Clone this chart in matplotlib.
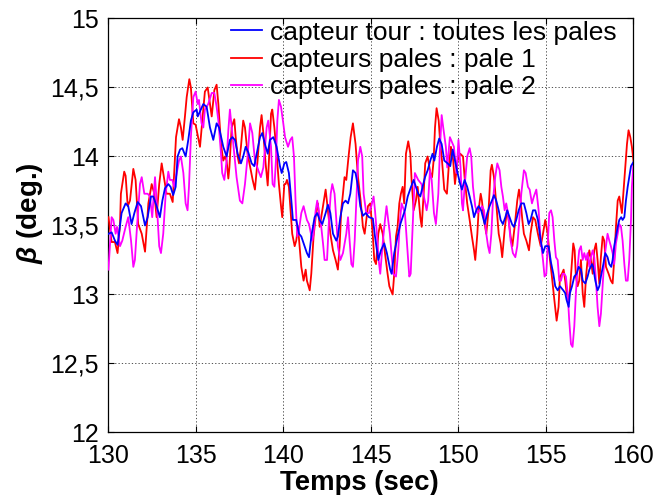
import matplotlib
matplotlib.use("Agg")
import matplotlib.pyplot as plt
from matplotlib.ticker import FixedLocator

# angle de calage beta (deg.) relevé entre 130 et 160 s
t_tour = [130.0, 130.18, 130.37, 130.52, 130.75, 130.98, 131.13, 131.32, 131.48, 131.67, 131.86, 132.09,
          132.24, 132.43, 132.56, 132.75, 132.94, 133.08, 133.23, 133.42, 133.55, 133.70, 133.84, 133.95,
          134.09, 134.22, 134.41, 134.56, 134.71, 134.85, 135.04, 135.10, 135.42, 135.61, 135.80, 135.99,
          136.18, 136.32, 136.56, 136.75, 136.94, 137.08, 137.23, 137.38, 137.57, 137.70, 137.84, 137.99,
          138.18, 138.33, 138.47, 138.66, 138.79, 138.94, 139.10, 139.23, 139.42, 139.61, 139.80, 139.90,
          140.05, 140.16, 140.31, 140.45, 140.54, 140.73, 140.89, 141.02, 141.21, 141.34, 141.46, 141.59,
          141.78, 141.93, 142.07, 142.22, 142.41, 142.54, 142.68, 142.83, 143.02, 143.11, 143.25, 143.40,
          143.55, 143.69, 143.82, 143.97, 144.12, 144.26, 144.39, 144.54, 144.70, 144.89, 145.11, 145.23,
          145.42, 145.57, 145.76, 145.91, 146.10, 146.18, 146.33, 146.52, 146.68, 146.81, 146.94, 147.10,
          147.29, 147.44, 147.57, 147.70, 147.82, 147.95, 148.09, 148.24, 148.39, 148.52, 148.62, 148.77,
          148.90, 149.04, 149.19, 149.38, 149.53, 149.67, 149.80, 149.95, 150.10, 150.20, 150.35, 150.50,
          150.64, 150.77, 150.89, 151.02, 151.15, 151.30, 151.50, 151.65, 151.78, 151.91, 152.03, 152.16,
          152.30, 152.41, 152.54, 152.68, 152.79, 152.92, 153.06, 153.17, 153.30, 153.44, 153.59, 153.74,
          153.88, 154.01, 154.12, 154.26, 154.39, 154.54, 154.70, 154.83, 154.96, 155.15, 155.29, 155.42,
          155.53, 155.67, 155.80, 155.99, 156.10, 156.18, 156.30, 156.37, 156.49, 156.62, 156.75, 156.87,
          157.00, 157.10, 157.25, 157.38, 157.48, 157.63, 157.70, 157.82, 157.95, 158.05, 158.14, 158.28,
          158.39, 158.52, 158.62, 158.73, 158.81, 158.90, 159.00, 159.10, 159.19, 159.30, 159.38, 159.48,
          159.57, 159.67, 159.76, 159.86, 160.0]
beta_tour = [13.44, 13.45, 13.39, 13.36, 13.59, 13.66, 13.64, 13.51, 13.59, 13.67, 13.64, 13.50,
             13.56, 13.71, 13.71, 13.64, 13.56, 13.68, 13.77, 13.80, 13.78, 13.72, 13.78, 14.00,
             14.05, 14.06, 14.00, 14.12, 14.26, 14.32, 14.34, 14.29, 14.38, 14.36, 14.21, 14.12,
             14.24, 14.21, 14.07, 14.00, 14.12, 14.14, 14.12, 14.02, 13.95, 14.00, 14.07, 14.03,
             13.95, 13.93, 14.02, 14.14, 14.17, 14.09, 14.02, 14.12, 14.14, 14.07, 13.93, 13.88,
             13.95, 13.96, 13.88, 13.68, 13.54, 13.54, 13.44, 13.42, 13.35, 13.30, 13.27, 13.42,
             13.56, 13.59, 13.54, 13.51, 13.59, 13.65, 13.59, 13.44, 13.39, 13.42, 13.56, 13.66,
             13.68, 13.66, 13.73, 13.90, 13.88, 13.78, 13.64, 13.57, 13.59, 13.56, 13.55, 13.42,
             13.25, 13.32, 13.37, 13.30, 13.18, 13.15, 13.30, 13.42, 13.51, 13.56, 13.61, 13.71,
             13.78, 13.83, 13.78, 13.73, 13.71, 13.78, 13.85, 13.90, 13.97, 14.02, 13.97, 14.07,
             14.13, 14.09, 13.97, 13.95, 13.93, 14.05, 13.97, 13.88, 13.80, 13.76, 13.83, 13.78,
             13.71, 13.64, 13.56, 13.61, 13.64, 13.61, 13.51, 13.59, 13.64, 13.68, 13.72, 13.68,
             13.61, 13.54, 13.51, 13.56, 13.61, 13.56, 13.51, 13.49, 13.54, 13.61, 13.66, 13.66,
             13.59, 13.51, 13.54, 13.61, 13.61, 13.54, 13.39, 13.30, 13.35, 13.35, 13.23, 13.15,
             13.06, 13.03, 13.06, 13.03, 13.01, 12.96, 12.91, 13.01, 13.06, 13.13, 13.15, 13.20,
             13.18, 13.10, 13.08, 13.13, 13.18, 13.22, 13.20, 13.10, 13.03, 13.06, 13.13, 13.22,
             13.30, 13.27, 13.22, 13.20, 13.25, 13.35, 13.42, 13.49, 13.54, 13.56, 13.54, 13.56,
             13.68, 13.78, 13.85, 13.93, 13.96]

t_pale1 = [130.0, 130.18, 130.37, 130.52, 130.66, 130.71, 130.90, 130.98, 131.10, 131.23, 131.42, 131.55,
           131.70, 131.90, 132.09, 132.28, 132.47, 132.62, 132.75, 132.90, 133.04, 133.19, 133.32, 133.51,
           133.67, 133.76, 133.86, 134.03, 134.14, 134.24, 134.37, 134.47, 134.62, 134.71, 134.85, 134.98,
           135.23, 135.51, 135.67, 135.80, 135.90, 136.05, 136.18, 136.28, 136.43, 136.56, 136.66, 136.75,
           136.85, 136.91, 137.04, 137.19, 137.27, 137.38, 137.46, 137.57, 137.70, 137.80, 137.95, 138.09,
           138.24, 138.37, 138.52, 138.66, 138.75, 138.85, 138.98, 139.10, 139.17, 139.29, 139.36, 139.48,
           139.61, 139.74, 139.86, 139.93, 140.05, 140.12, 140.20, 140.31, 140.39, 140.50, 140.64, 140.73,
           140.83, 140.92, 141.02, 141.15, 141.27, 141.34, 141.50, 141.59, 141.72, 141.88, 141.97, 142.07,
           142.22, 142.41, 142.54, 142.68, 142.83, 142.98, 143.11, 143.21, 143.30, 143.40, 143.49, 143.59,
           143.72, 143.84, 143.97, 144.12, 144.26, 144.41, 144.54, 144.64, 144.83, 144.96, 145.11, 145.19,
           145.29, 145.42, 145.53, 145.67, 145.80, 145.95, 146.05, 146.14, 146.24, 146.33, 146.43, 146.52,
           146.62, 146.71, 146.81, 146.90, 147.00, 147.13, 147.25, 147.32, 147.44, 147.57, 147.67, 147.82,
           147.90, 148.01, 148.10, 148.24, 148.39, 148.49, 148.58, 148.66, 148.75, 148.87, 148.96, 149.06,
           149.19, 149.34, 149.44, 149.57, 149.70, 149.80, 149.95, 150.10, 150.26, 150.35, 150.50, 150.64,
           150.77, 150.89, 150.96, 151.08, 151.15, 151.27, 151.34, 151.46, 151.59, 151.72, 151.84, 151.91,
           152.03, 152.16, 152.30, 152.41, 152.50, 152.64, 152.77, 152.87, 152.98, 153.08, 153.21, 153.36,
           153.46, 153.55, 153.65, 153.74, 153.88, 154.03, 154.12, 154.26, 154.39, 154.54, 154.70, 154.83,
           154.96, 155.10, 155.23, 155.34, 155.48, 155.61, 155.72, 155.80, 155.91, 156.01, 156.10, 156.18,
           156.30, 156.37, 156.49, 156.56, 156.64, 156.71, 156.81, 156.90, 157.00, 157.10, 157.19, 157.29,
           157.38, 157.48, 157.57, 157.67, 157.76, 157.86, 157.95, 158.05, 158.14, 158.24, 158.33, 158.43,
           158.58, 158.71, 158.81, 158.90, 159.00, 159.10, 159.19, 159.34, 159.42, 159.53, 159.63, 159.72,
           159.82, 159.91, 160.0]
beta_pale1 = [13.56, 13.38, 13.38, 13.30, 13.51, 13.73, 13.89, 13.86, 13.64, 13.68, 13.91, 13.83,
              13.51, 13.44, 13.31, 13.66, 13.80, 13.73, 13.56, 13.80, 13.95, 13.83, 13.73, 13.73,
              13.67, 13.90, 14.14, 14.27, 14.21, 14.12, 14.29, 14.43, 14.56, 14.50, 14.24, 14.23,
              14.07, 14.47, 14.50, 14.38, 14.29, 14.48, 14.52, 14.38, 14.09, 13.97, 14.00, 13.97,
              13.84, 13.92, 14.21, 14.27, 14.14, 14.00, 13.95, 14.07, 14.26, 14.21, 14.02, 13.93,
              13.83, 13.76, 13.97, 14.21, 14.30, 14.17, 13.95, 13.79, 13.97, 14.31, 14.34, 14.21,
              14.02, 13.80, 13.64, 13.56, 13.80, 13.80, 13.83, 13.78, 13.64, 13.44, 13.35, 13.39,
              13.49, 13.35, 13.20, 13.10, 13.18, 13.10, 13.03, 13.15, 13.42, 13.61, 13.66, 13.49,
              13.61, 13.76, 13.61, 13.44, 13.32, 13.25, 13.18, 13.35, 13.61, 13.73, 13.85, 13.83,
              14.00, 14.14, 14.24, 14.09, 13.85, 13.68, 13.49, 13.44, 13.64, 13.66, 13.42, 13.25,
              13.22, 13.44, 13.51, 13.44, 13.30, 13.15, 13.06, 13.03, 13.00, 13.15, 13.42, 13.49,
              13.66, 13.73, 13.78, 13.66, 14.02, 14.11, 14.02, 13.83, 13.61, 13.68, 13.78, 13.56,
              13.49, 13.73, 13.95, 14.00, 13.88, 13.85, 13.97, 14.21, 14.35, 14.26, 14.09, 13.97,
              13.76, 13.73, 13.92, 14.07, 13.97, 13.80, 13.97, 14.02, 14.00, 13.85, 13.66, 13.54,
              13.42, 13.32, 13.25, 13.44, 13.61, 13.73, 13.68, 13.54, 13.44, 13.61, 13.90, 13.94,
              13.85, 13.66, 13.44, 13.37, 13.27, 13.47, 13.61, 13.54, 13.42, 13.35, 13.49, 13.68,
              13.76, 13.68, 13.54, 13.44, 13.39, 13.32, 13.44, 13.56, 13.54, 13.44, 13.35, 13.44,
              13.54, 13.44, 13.25, 13.13, 12.96, 12.81, 12.91, 13.13, 13.15, 13.18, 13.10, 13.01,
              12.96, 13.03, 13.25, 13.37, 13.32, 13.13, 13.06, 13.10, 13.25, 13.01, 12.91, 13.13,
              13.25, 13.32, 13.25, 13.15, 13.32, 13.37, 13.25, 13.08, 13.27, 13.42, 13.39, 13.20,
              13.15, 13.10, 13.08, 13.25, 13.49, 13.68, 13.71, 13.59, 13.73, 13.93, 14.09, 14.19,
              14.14, 14.07, 13.97]

t_pale2 = [130.0, 130.18, 130.28, 130.41, 130.49, 130.66, 130.79, 130.98, 131.13, 131.29, 131.42, 131.51,
           131.63, 131.80, 131.90, 132.05, 132.24, 132.37, 132.50, 132.66, 132.75, 132.90, 133.00, 133.13,
           133.27, 133.42, 133.51, 133.65, 133.76, 133.90, 134.03, 134.14, 134.28, 134.41, 134.52, 134.60,
           134.71, 134.85, 134.98, 135.10, 135.17, 135.32, 135.42, 135.51, 135.70, 135.90, 136.05, 136.18,
           136.28, 136.43, 136.50, 136.62, 136.75, 136.85, 136.94, 137.04, 137.19, 137.32, 137.51, 137.65,
           137.80, 137.95, 138.09, 138.22, 138.37, 138.56, 138.71, 138.85, 139.04, 139.13, 139.29, 139.38,
           139.48, 139.57, 139.65, 139.74, 139.86, 139.99, 140.09, 140.26, 140.39, 140.50, 140.60, 140.69,
           140.79, 140.89, 141.02, 141.15, 141.34, 141.46, 141.65, 141.72, 141.84, 141.93, 142.07, 142.16,
           142.26, 142.35, 142.49, 142.60, 142.70, 142.79, 142.92, 143.02, 143.11, 143.25, 143.40, 143.59,
           143.69, 143.78, 143.88, 143.97, 144.07, 144.16, 144.26, 144.39, 144.50, 144.58, 144.73, 144.89,
           145.02, 145.15, 145.23, 145.34, 145.44, 145.53, 145.67, 145.80, 145.89, 146.08, 146.27, 146.43,
           146.56, 146.66, 146.75, 146.94, 147.07, 147.19, 147.27, 147.38, 147.51, 147.70, 147.89, 148.18,
           148.27, 148.37, 148.47, 148.60, 148.71, 148.85, 148.94, 149.04, 149.13, 149.28, 149.36, 149.51,
           149.74, 149.89, 150.0, 150.12, 150.20, 150.26, 150.35, 150.50, 150.64, 150.73, 150.83, 150.96,
           151.08, 151.21, 151.34, 151.46, 151.59, 151.69, 151.78, 151.88, 151.97, 152.10, 152.22, 152.35,
           152.45, 152.54, 152.64, 152.73, 152.83, 152.98, 153.11, 153.25, 153.36, 153.46, 153.59, 153.74,
           153.84, 153.97, 154.07, 154.20, 154.31, 154.45, 154.58, 154.70, 154.83, 154.92, 155.02, 155.10,
           155.19, 155.29, 155.38, 155.48, 155.57, 155.67, 155.76, 155.86, 155.95, 156.05, 156.14, 156.24,
           156.33, 156.43, 156.52, 156.62, 156.71, 156.81, 156.90, 157.00, 157.10, 157.19, 157.29, 157.38,
           157.48, 157.57, 157.67, 157.76, 157.86, 157.95, 158.05, 158.14, 158.24, 158.33, 158.43, 158.52,
           158.62, 158.71, 158.81, 158.90, 159.00, 159.10, 159.19, 159.29, 159.38, 159.48, 159.57, 159.67,
           159.76, 159.86, 159.91, 160.0]
beta_pale2 = [13.18, 13.56, 13.54, 13.44, 13.49, 13.35, 13.39, 13.49, 13.56, 13.39, 13.20, 13.25,
              13.49, 13.80, 13.85, 13.73, 13.73, 13.71, 13.56, 13.85, 13.68, 13.35, 13.30, 13.44,
              13.73, 13.89, 13.83, 13.83, 13.78, 13.88, 13.97, 14.00, 13.88, 13.66, 13.61, 13.78,
              14.14, 14.43, 14.47, 14.38, 14.41, 14.24, 14.21, 14.34, 14.38, 14.46, 14.46, 14.36,
              14.26, 14.02, 13.88, 13.83, 13.97, 14.19, 14.34, 14.21, 14.02, 13.85, 13.68, 13.66,
              13.80, 14.00, 14.24, 14.17, 13.97, 13.90, 13.85, 13.92, 14.21, 14.26, 14.07, 13.80,
              13.78, 13.97, 14.26, 14.41, 14.36, 14.24, 14.14, 14.07, 14.12, 14.14, 14.00, 13.68,
              13.42, 13.47, 13.59, 13.64, 13.54, 13.51, 13.39, 13.44, 13.61, 13.68, 13.56, 13.49,
              13.37, 13.25, 13.25, 13.54, 13.73, 13.80, 13.73, 13.54, 13.35, 13.25, 13.30, 13.44,
              13.56, 13.39, 13.22, 13.20, 13.39, 13.66, 13.97, 14.07, 14.00, 13.73, 13.59, 13.59,
              13.64, 13.71, 13.61, 13.44, 13.25, 13.15, 13.37, 13.54, 13.64, 13.44, 13.15, 13.13,
              13.32, 13.54, 13.66, 13.59, 13.35, 13.13, 13.15, 13.49, 13.88, 13.83, 13.80, 13.61,
              13.68, 13.90, 13.83, 13.59, 13.51, 13.73, 14.05, 14.30, 14.21, 14.07, 13.92, 14.14,
              14.07, 13.88, 14.12, 13.92, 13.66, 13.61, 13.78, 14.00, 14.06, 14.00, 13.78, 13.64,
              13.59, 13.61, 13.64, 13.61, 13.44, 13.35, 13.30, 13.44, 13.68, 13.85, 13.95, 13.90,
              13.78, 13.71, 13.61, 13.66, 13.59, 13.39, 13.30, 13.27, 13.35, 13.51, 13.73, 13.90,
              13.88, 13.78, 13.76, 13.66, 13.71, 13.76, 13.61, 13.39, 13.25, 13.13, 13.15, 13.35,
              13.59, 13.61, 13.56, 13.39, 13.27, 13.25, 13.10, 13.10, 13.15, 13.15, 13.13, 13.01,
              12.81, 12.64, 12.62, 12.77, 13.01, 13.20, 13.32, 13.35, 13.25, 13.30, 13.25, 13.30,
              13.20, 13.27, 13.32, 13.27, 13.10, 12.91, 12.77, 12.86, 13.06, 13.25, 13.35, 13.44,
              13.39, 13.35, 13.30, 13.22, 13.37, 13.44, 13.51, 13.49, 13.39, 13.22, 13.10, 13.10,
              13.25, 13.54, 13.78, 13.95]

labels = ["capteur tour : toutes les pales", "capteurs pales : pale 1", "capteurs pales : pale 2"]
x_ticks = [130, 135, 140, 145, 150, 155, 160]
y_ticks = [12, 12.5, 13, 13.5, 14, 14.5, 15]
y_ticklabels = ["12", "12,5", "13", "13,5", "14", "14,5", "15"]

plt.rcParams['font.family'] = ['Liberation Sans', 'DejaVu Sans']
plt.rcParams['mathtext.fontset'] = 'custom'
plt.rcParams['mathtext.it'] = 'Liberation Sans:italic:bold'
plt.rcParams['mathtext.rm'] = 'Liberation Sans:bold'

fig = plt.figure(figsize=(6.55, 4.95), dpi=100)
ax = fig.add_axes([0.1656, 0.1263, 0.8015, 0.8364])

lw = 1.3
l_tour, = ax.plot(t_tour, beta_tour, color='#0000ff', lw=lw, zorder=5)
l_p1, = ax.plot(t_pale1, beta_pale1, color='#ff0000', lw=lw, zorder=3)
l_p2, = ax.plot(t_pale2, beta_pale2, color='#ff00ff', lw=lw, zorder=4)

ax.set_xlim(130, 160)
ax.set_ylim(12, 15)
ax.xaxis.set_major_locator(FixedLocator(x_ticks))
ax.yaxis.set_major_locator(FixedLocator(y_ticks))
ax.set_yticklabels(y_ticklabels)
ax.tick_params(direction='in', length=4, width=0.8, top=True, right=True, labelsize=18)
ax.tick_params(axis='y', pad=7)
ax.tick_params(axis='x', pad=8)
ax.grid(True, color='#333333', linestyle=(0, (1.5, 2.5)), lw=0.6)
for sp in ax.spines.values():
    sp.set_linewidth(0.9)

ax.set_xlabel("Temps (sec)", fontsize=19.8, fontweight='bold', labelpad=2, x=0.477)
ax.set_ylabel(r"$\beta$ (deg.)", fontsize=20, fontweight='bold', labelpad=4, y=0.53)

ax.legend([l_tour, l_p1, l_p2], labels, loc='upper left', bbox_to_anchor=(0.2333, 0.995),
          frameon=False, fontsize=19, handlelength=1.17, handletextpad=0.3,
          labelspacing=0.13, borderpad=0, borderaxespad=0)

fig.savefig("out.png", dpi=100)
